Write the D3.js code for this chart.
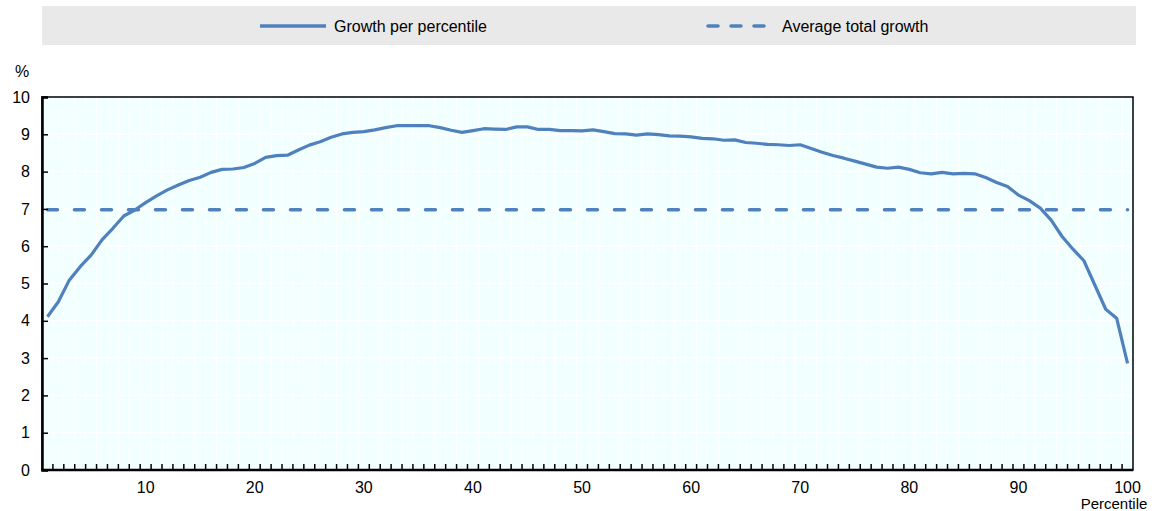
<!DOCTYPE html>
<html><head><meta charset="utf-8">
<script src="https://cdn.jsdelivr.net/npm/d3@7"></script>
<style>body{margin:0;background:#fff;} text{font-family:"Liberation Sans",Arial,sans-serif;}</style>
</head><body><svg id="c" width="1156" height="511"></svg>
<script>
const percentiles = d3.range(1, 101);
const growth = [4.11,4.51,5.09,5.45,5.76,6.17,6.48,6.81,6.97,7.17,
7.35,7.51,7.64,7.76,7.85,7.98,8.06,8.07,8.11,8.22,
8.38,8.43,8.44,8.58,8.71,8.80,8.92,9.01,9.05,9.07,
9.12,9.18,9.23,9.23,9.23,9.23,9.18,9.11,9.05,9.10,
9.15,9.14,9.13,9.20,9.20,9.13,9.13,9.10,9.10,9.09,
9.12,9.07,9.02,9.01,8.98,9.01,8.99,8.96,8.95,8.93,
8.89,8.88,8.84,8.85,8.78,8.76,8.73,8.72,8.70,8.72,
8.62,8.52,8.43,8.36,8.28,8.20,8.12,8.09,8.12,8.06,
7.97,7.94,7.98,7.94,7.95,7.94,7.84,7.71,7.60,7.37,
7.22,7.02,6.70,6.26,5.92,5.61,4.96,4.31,4.07,2.86];
const averageGrowth = 6.98;
const yTicks = [0,1,2,3,4,5,6,7,8,9,10];
const xTickLabels = [10,20,30,40,50,60,70,80,90,100];
const seriesNames = ["Growth per percentile","Average total growth"];

const svg = d3.select("#c");
const L = 42, R = 1133, T = 97, B = 470;
const blue = "#4f81bd";

const x = d3.scaleBand().domain(percentiles).range([L, R]);
const xc = d => x(d) + x.bandwidth()/2;
const y = d3.scaleLinear().domain([0, 10]).range([B, T]);

// legend
svg.append("rect").attr("x", 42).attr("y", 6).attr("width", 1094).attr("height", 39).attr("fill", "#e9e9e9");
const leg = [{x:258, dash:null, name:seriesNames[0]},{x:706, dash:"10,13", name:seriesNames[1]}];
leg.forEach(l => {
  svg.append("line").attr("x1", l.x+2).attr("x2", l.x+68).attr("y1", 26).attr("y2", 26)
    .attr("stroke", blue).attr("stroke-width", 3.5).attr("stroke-linecap", l.dash ? "round" : "butt")
    .attr("stroke-dasharray", l.dash);
  svg.append("text").attr("x", l.x+76).attr("y", 32).attr("font-size", 16).attr("fill", "#000").text(l.name);
});

// plot background
svg.append("rect").attr("x", L).attr("y", T).attr("width", R-L).attr("height", B-T).attr("fill", "#f2ffff");
// vertical gridlines
svg.append("g").selectAll("line").data(percentiles.slice(1)).join("line")
  .attr("x1", d => x(d)).attr("x2", d => x(d)).attr("y1", T).attr("y2", B)
  .attr("stroke", "#fff").attr("stroke-width", 1);
// horizontal gridlines
svg.append("g").selectAll("line").data(yTicks.slice(1,-1)).join("line")
  .attr("x1", L).attr("x2", R).attr("y1", d => y(d)).attr("y2", d => y(d))
  .attr("stroke", "#fff").attr("stroke-width", 1.5);

// average line
svg.append("line").attr("x1", xc(1)).attr("x2", xc(100)).attr("y1", y(averageGrowth)).attr("y2", y(averageGrowth))
  .attr("stroke", blue).attr("stroke-width", 3.5).attr("stroke-dasharray", "10,17").attr("stroke-linecap", "round");

// growth line
svg.append("path").datum(growth).attr("fill", "none").attr("stroke", blue).attr("stroke-width", 3.2)
  .attr("stroke-linejoin", "round")
  .attr("d", d3.line().x((d,i) => xc(percentiles[i])).y(d => y(d)));

// frame
svg.append("rect").attr("x", L).attr("y", T).attr("width", R-L).attr("height", B-T)
  .attr("fill", "none").attr("stroke", "#000").attr("stroke-width", 1.5);

// y axis
const yAxis = svg.append("g").attr("transform", `translate(${L},0)`)
  .call(d3.axisLeft(y).tickValues(yTicks).tickFormat(d3.format("d")).tickSize(-6).tickPadding(12));
yAxis.select(".domain").attr("stroke-width", 2.5);
yAxis.selectAll(".tick line").attr("stroke-width", 1.5);
yAxis.selectAll("text").attr("font-size", 16).attr("fill", "#000");

// x axis: ticks at category boundaries
const xAxisG = svg.append("g");
xAxisG.append("line").attr("x1", L).attr("x2", R).attr("y1", B).attr("y2", B).attr("stroke", "#000").attr("stroke-width", 2.5);
xAxisG.selectAll("line.t").data(percentiles.slice(1)).join("line").attr("class","t")
  .attr("x1", d => x(d)).attr("x2", d => x(d)).attr("y1", B).attr("y2", B-6)
  .attr("stroke", "#000").attr("stroke-width", 1.5);
xAxisG.selectAll("text").data(xTickLabels).join("text")
  .attr("x", d => xc(d)).attr("y", 493).attr("text-anchor", "middle").attr("font-size", 16).attr("fill", "#000").text(d => d);

svg.append("text").attr("x", 22).attr("y", 77).attr("text-anchor", "middle").attr("font-size", 16).text("%");
svg.append("text").attr("x", 1114).attr("y", 509).attr("text-anchor", "middle").attr("font-size", 15).text("Percentile");
</script></body></html>
